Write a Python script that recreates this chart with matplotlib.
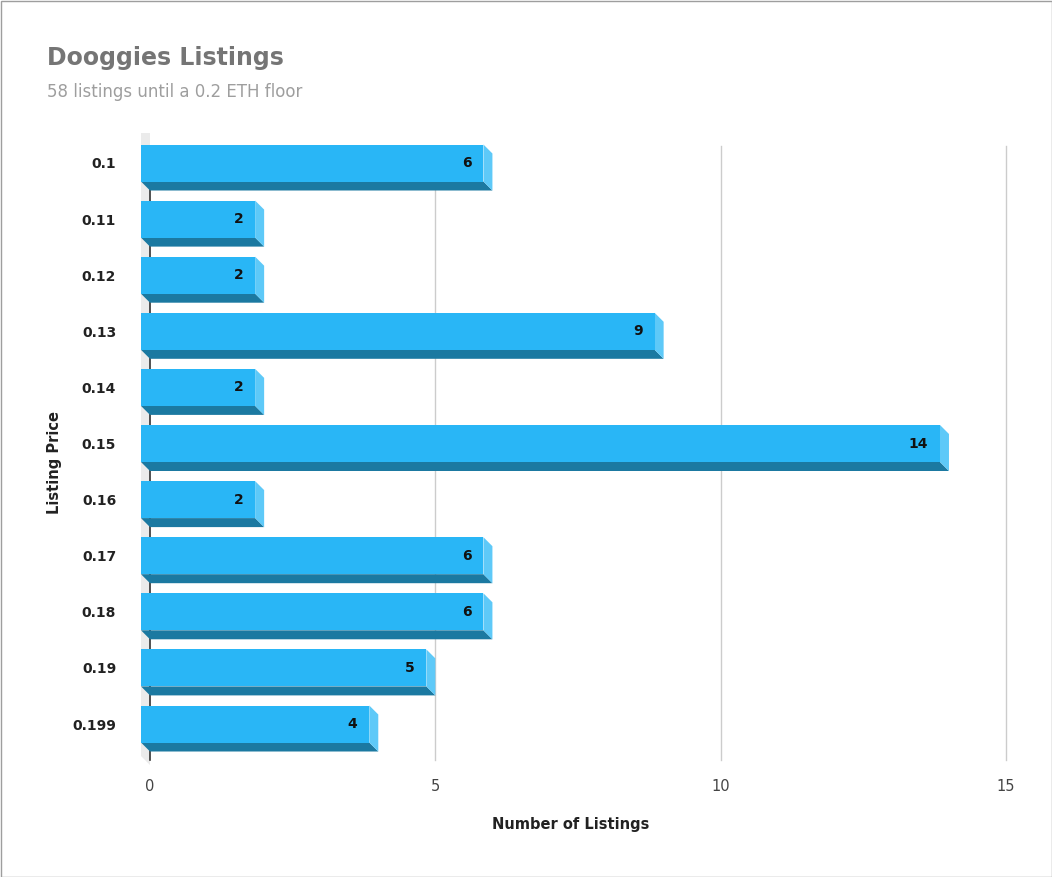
import matplotlib
matplotlib.use("Agg")
import matplotlib.pyplot as plt
from matplotlib.patches import Polygon, Rectangle

categories = ["0.1", "0.11", "0.12", "0.13", "0.14", "0.15", "0.16", "0.17", "0.18", "0.19", "0.199"]
values = [6, 2, 2, 9, 2, 14, 2, 6, 6, 5, 4]
xticks = [0, 5, 10, 15]

W, H = 1052, 877
fig = plt.figure(figsize=(W/100, H/100), dpi=100)
fig.patches.append(Rectangle((0.5/W, 0.5/H), 1-1/W, 1-1/H, transform=fig.transFigure,
                             fill=False, edgecolor="#9e9e9e", lw=1))
pxu = 57.07
x0pix = 150
xl = (-0.3, 15.5)
ystep = 56.1
yc0 = 172
yl_top = (133 - yc0) / ystep
yl_bot = (765 - yc0) / ystep
left = (x0pix + xl[0]*pxu) / W
right = (x0pix + xl[1]*pxu) / W
ax = fig.add_axes([left, 1 - 765/H, right-left, (765-133)/H])
ax.set_xlim(*xl)
ax.set_ylim(yl_bot, yl_top)
for s in ax.spines.values():
    s.set_visible(False)

dx = 9/pxu
dy = 9/ystep
h = 37/ystep

# left wall
ax.add_patch(Polygon([(-dx, yl_top), (0, yl_top+0.0), (0, yl_bot), (-dx, yl_bot-dy)],
                     closed=True, facecolor="#ebebeb", edgecolor="none", zorder=0))
for t in xticks[1:]:
    ax.plot([t, t], [yl_top+13/ystep, yl_bot-5/ystep], color="#cccccc", lw=1, zorder=1)
ax.plot([0, 0], [yl_top+13/ystep, yl_bot-5/ystep], color="#333333", lw=1.2, zorder=1)

for i, v in enumerate(values):
    yb = i - h/2  # back top
    # front face: shifted (-dx, -dy)
    ft, fb = yb - dy, yb - dy + h
    fl, fr = -dx, v - dx
    ax.add_patch(Polygon([(fl, fb), (fr, fb), (v, fb+dy), (0, fb+dy)], closed=True,
                         facecolor="#1b79a1", edgecolor="none", zorder=3))
    ax.add_patch(Polygon([(fr, ft), (v, ft+dy), (v, fb+dy), (fr, fb)], closed=True,
                         facecolor="#5ec9f8", edgecolor="none", zorder=3))
    ax.add_patch(Rectangle((fl, ft), v, h, facecolor="#29b6f6", edgecolor="none", zorder=4))
    ax.text(fr - 12/pxu, (ft+fb)/2, str(v), ha="right", va="center", fontsize=10,
            fontweight="bold", color="#111111", zorder=5)

ax.set_yticks([i - dy for i in range(len(categories))])
ax.set_yticklabels(categories, fontsize=10, fontweight="bold", color="#222222")
ax.set_xticks(xticks)
ax.set_xticklabels([str(t) for t in xticks], fontsize=10.5, color="#444444")
ax.tick_params(length=0)
ax.tick_params(axis="y", pad=12)
ax.tick_params(axis="x", pad=10)

fig.text(47/W, 1-58/H, "Dooggies Listings", fontsize=17, fontweight="bold", color="#757575", va="center")
fig.text(47/W, 1-92/H, "58 listings until a 0.2 ETH floor", fontsize=12, color="#9e9e9e", va="center")
fig.text(571/W, 1-825/H, "Number of Listings", fontsize=10.5, fontweight="bold", ha="center", va="center", color="#222222")
fig.text(55/W, 1-462/H, "Listing Price", fontsize=10.5, fontweight="bold", ha="center", va="center",
         rotation=90, color="#222222")
fig.savefig("out.png", dpi=100)
